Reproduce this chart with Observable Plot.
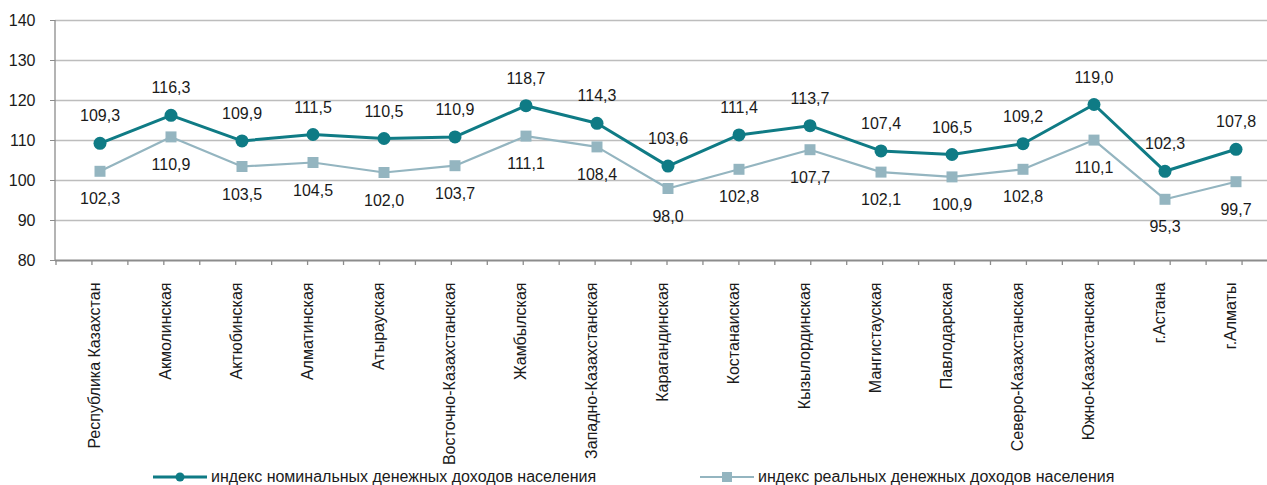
<!DOCTYPE html>
<html><head><meta charset="utf-8">
<script src="https://cdn.jsdelivr.net/npm/d3@7"></script>
<script src="https://cdn.jsdelivr.net/npm/@observablehq/plot@0.6"></script>
<style>
body{margin:0;background:#fff;font-family:"Liberation Sans",Arial,sans-serif;}
#wrap{position:relative;width:1267px;height:485px;overflow:hidden;background:#fff}
#legend{position:absolute;top:467px;left:0;width:1267px;height:20px;font-size:16px;color:#1a1a1a}
.item{position:absolute;top:0;display:flex;align-items:center;height:20px;white-space:nowrap}
.item svg{margin-right:4px}
</style></head><body><div id="wrap"><div id="chart"></div><div id="legend"></div></div>
<script>
const regions = ["Республика Казахстан","Акмолинская","Актюбинская","Алматинская","Атырауская","Восточно-Казахстанская","Жамбылская","Западно-Казахстанская","Карагандинская","Костанаиская","Кызылординская","Мангистауская","Павлодарская","Северо-Казахстанская","Южно-Казахстанская","г.Астана","г.Алматы"];
const nominal = [109.3,116.3,109.9,111.5,110.5,110.9,118.7,114.3,103.6,111.4,113.7,107.4,106.5,109.2,119.0,102.3,107.8];
const real = [102.3,110.9,103.5,104.5,102.0,103.7,111.1,108.4,98.0,102.8,107.7,102.1,100.9,102.8,110.1,95.3,99.7];
const yTicks = [80,90,100,110,120,130,140];
const seriesNames = ["индекс номинальных денежных доходов населения","индекс реальных денежных доходов населения"];
const colors = ["#0f7b85","#94b5c0"];

const data = regions.map((r,i)=>({region:r, nominal:nominal[i], real:real[i]}));
const fmt = v => v.toFixed(1).replace(".", ",");
const font = "Liberation Sans, Arial, sans-serif";

const plot = Plot.plot({
  width:1267, height:462, marginLeft:55, marginTop:20, marginBottom:202, marginRight:0,
  style:{fontFamily:font, fontSize:"16px", color:"#1a1a1a", background:"transparent", overflow:"visible"},
  x:{type:"band", domain:regions, range:[56,1278], padding:0, axis:null, label:null},
  y:{domain:[80,140], range:[260,20], axis:null, label:null},
  marks:[
    Plot.ruleY(yTicks.filter(t=>t>80), {stroke:"#bdbdbd", strokeWidth:1.3}),
    Plot.ruleY([80], {stroke:"#8c8c8c", strokeWidth:2}),
    Plot.axisY(yTicks, {tickSize:5, tickPadding:15, stroke:"#8c8c8c", fontSize:16, fill:"#1a1a1a", label:null}),
    Plot.axisX({tickSize:0, tickRotate:-90, tickPadding:22, fontSize:16, fill:"#1a1a1a", label:null, dx:-5}),
    Plot.line(data, {x:"region", y:"real", stroke:colors[1], strokeWidth:2.2}),
    Plot.dot(data, {x:"region", y:"real", symbol:"square", r:6.2, fill:colors[1], stroke:"none"}),
    Plot.line(data, {x:"region", y:"nominal", stroke:colors[0], strokeWidth:3}),
    Plot.dot(data, {x:"region", y:"nominal", r:6.5, fill:colors[0], stroke:"none"}),
    Plot.text(data, {x:"region", y:"nominal", text:d=>fmt(d.nominal), dy:-27, fontSize:16, fill:"#1a1a1a"}),
    Plot.text(data, {x:"region", y:"real", text:d=>fmt(d.real), dy:28, fontSize:16, fill:"#1a1a1a"})
  ]
});
document.getElementById("chart").appendChild(plot);

// axis lines and ticks derived from the scales
const xs = plot.scale("x"), ys = plot.scale("y");
const xb = d3.scaleBand().domain(xs.domain).range(xs.range).padding(0);
const yl = d3.scaleLinear().domain(ys.domain).range(ys.range);
const svg = d3.select(plot);
const g = svg.append("g").attr("stroke","#8c8c8c").attr("stroke-width",1.3);
const x0 = xs.range[0]-1;
g.append("line").attr("x1",x0).attr("x2",x0).attr("y1",yl(140)).attr("y2",yl(80));
const step = xb.step();
for (let i=0;i<=regions.length*2;i++){
  const xx = xb.range()[0] + i*step/2;
  g.append("line").attr("x1",xx).attr("x2",xx).attr("y1",yl(80)).attr("y2",yl(80)+5);
}

// legend
const legend = d3.select("#legend");
const lefts = [153, 700];
seriesNames.forEach((name,i)=>{
  const it = legend.append("div").attr("class","item").style("left", lefts[i]+"px");
  const s = it.append("svg").attr("width",54).attr("height",20);
  s.append("line").attr("x1",0).attr("x2",54).attr("y1",10).attr("y2",10).attr("stroke",colors[i]).attr("stroke-width", i===0?3:2.2);
  if(i===0) s.append("circle").attr("cx",27).attr("cy",10).attr("r",4.5).attr("fill",colors[i]);
  else s.append("rect").attr("x",22).attr("y",5).attr("width",10).attr("height",10).attr("fill",colors[i]);
  it.append("span").text(name);
});
</script></body></html>
